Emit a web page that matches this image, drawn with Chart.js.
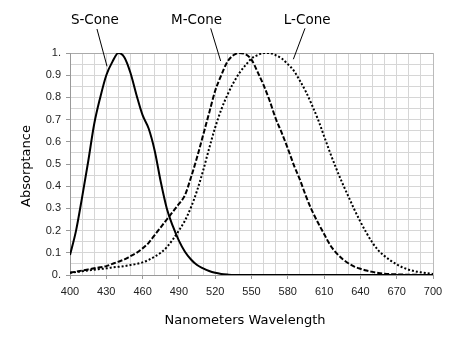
<!DOCTYPE html>
<html>
<head>
<meta charset="utf-8">
<script src="https://cdn.jsdelivr.net/npm/chart.js@4/dist/chart.umd.min.js"></script>
<style>
  html, body { margin: 0; padding: 0; background: #fff; }
  #wrap { width: 453px; height: 346px; }
</style>
</head>
<body>
<div id="wrap"><canvas id="coneChart" width="453" height="346"></canvas></div>
<script>
// wavelengths in nm, every 5 nm
const wavelengths = [];
for (let w = 400; w <= 700; w += 5) wavelengths.push(w);

const sCone = [0.09, 0.2, 0.35, 0.51, 0.68, 0.80, 0.90, 0.96, 1.0, 0.98,
  0.91, 0.81, 0.72, 0.66, 0.56, 0.42, 0.30, 0.22, 0.155, 0.105,
  0.07, 0.045, 0.03, 0.018, 0.01, 0.005, 0.002, 0, 0, 0,
  0, 0, 0, 0, 0, 0, 0, 0, 0, 0,
  0, 0, 0, 0, 0, 0, 0, 0, 0, 0,
  0, 0, 0, 0, 0, 0, 0, 0, 0, 0, 0];

const mCone = [0.01, 0.015, 0.02, 0.025, 0.03, 0.035, 0.04, 0.05, 0.06, 0.07,
  0.085, 0.10, 0.12, 0.145, 0.18, 0.215, 0.25, 0.285, 0.32, 0.36,
  0.44, 0.53, 0.63, 0.73, 0.83, 0.90, 0.96, 0.99, 1.0, 0.995,
  0.97, 0.915, 0.855, 0.785, 0.705, 0.64, 0.57, 0.495, 0.43, 0.355,
  0.29, 0.235, 0.185, 0.135, 0.10, 0.073, 0.053, 0.038, 0.028, 0.02,
  0.014, 0.009, 0.006, 0.004, 0.003, 0.002, 0.001, 0.001, 0, 0, 0];

const lCone = [0.01, 0.013, 0.017, 0.02, 0.024, 0.027, 0.03, 0.034, 0.037, 0.04,
  0.045, 0.05, 0.057, 0.068, 0.083, 0.10, 0.125, 0.16, 0.2, 0.245,
  0.305, 0.38, 0.47, 0.57, 0.665, 0.745, 0.81, 0.865, 0.91, 0.945,
  0.975, 0.99, 1.0, 1.0, 0.99, 0.975, 0.95, 0.92, 0.875, 0.825,
  0.765, 0.70, 0.625, 0.55, 0.48, 0.415, 0.355, 0.295, 0.24, 0.19,
  0.145, 0.11, 0.085, 0.065, 0.048, 0.034, 0.024, 0.017, 0.012, 0.008, 0.005];

// callout labels: text position and leader line, in data units
const callouts = [
  { text: 'S-Cone', x: 420.6, y: 1.146, from: [422.3, 1.108], to: [430.6, 0.94] },
  { text: 'M-Cone', x: 504.6, y: 1.146, from: [516.3, 1.111], to: [524.5, 0.964] },
  { text: 'L-Cone', x: 596, y: 1.146, from: [594.2, 1.111], to: [584.6, 0.972] }
];

function toPoints(vals) {
  return vals.map((v, i) => ({ x: wavelengths[i], y: v }));
}

const isMajorX = v => Math.abs((v - 400) / 30 - Math.round((v - 400) / 30)) < 1e-6;
const isMajorY = v => Math.abs(v * 10 - Math.round(v * 10)) < 1e-6;

const labelPlugin = {
  id: 'labels',
  afterDraw(chart) {
    const ctx = chart.ctx, xs = chart.scales.x, ys = chart.scales.y;
    ctx.save();
    ctx.fillStyle = '#000';
    ctx.strokeStyle = '#000';
    ctx.lineWidth = 1;
    ctx.font = '13.5px "DejaVu Sans"';
    ctx.textAlign = 'center';
    ctx.textBaseline = 'middle';
    callouts.forEach(c => {
      ctx.fillText(c.text, xs.getPixelForValue(c.x), ys.getPixelForValue(c.y));
      ctx.beginPath();
      ctx.moveTo(xs.getPixelForValue(c.from[0]), ys.getPixelForValue(c.from[1]));
      ctx.lineTo(xs.getPixelForValue(c.to[0]), ys.getPixelForValue(c.to[1]));
      ctx.stroke();
    });
    // axis titles
    ctx.font = '13px "DejaVu Sans"';
    ctx.fillText('Nanometers Wavelength', 245, 321);
    ctx.translate(27, 166);
    ctx.rotate(-Math.PI / 2);
    ctx.fillText('Absorptance', 0, 0);
    ctx.restore();
  }
};

const ctx = document.getElementById('coneChart').getContext('2d');
new Chart(ctx, {
  type: 'line',
  data: {
    datasets: [
      { label: 'S-Cone', data: toPoints(sCone), borderColor: '#000', borderWidth: 2, pointRadius: 0, cubicInterpolationMode: 'monotone' },
      { label: 'M-Cone', data: toPoints(mCone), borderColor: '#000', borderWidth: 2, borderDash: [5, 2], pointRadius: 0, cubicInterpolationMode: 'monotone' },
      { label: 'L-Cone', data: toPoints(lCone), borderColor: '#000', borderWidth: 2, borderDash: [2, 2], pointRadius: 0, cubicInterpolationMode: 'monotone' }
    ]
  },
  options: {
    responsive: false,
    animation: false,
    layout: { padding: { top: 53, right: 20, left: 0, bottom: 0 } },
    plugins: { legend: { display: false }, tooltip: { enabled: false } },
    scales: {
      x: {
        type: 'linear', min: 400, max: 700,
        afterFit: s => { s.height = 71; },
        border: { color: '#999' },
        grid: {
          color: c => c.tick && c.tick.value === 700 ? '#bbb' : '#d6d6d6',
          tickColor: c => c.tick && isMajorX(c.tick.value) ? '#999' : 'rgba(0,0,0,0)',
          tickLength: 4
        },
        ticks: {
          stepSize: 10, autoSkip: false, maxRotation: 0, padding: 6,
          color: '#222', font: { family: 'Liberation Sans', size: 11 },
          callback: v => isMajorX(v) ? String(Math.round(v)) : ''
        }
      },
      y: {
        min: 0, max: 1,
        afterFit: s => { s.width = 70; },
        border: { color: '#999' },
        grid: {
          color: c => c.tick && c.tick.value === 1 ? '#aaa' : '#d6d6d6',
          tickColor: c => c.tick && isMajorY(c.tick.value) ? '#999' : 'rgba(0,0,0,0)',
          tickLength: 4
        },
        ticks: {
          stepSize: 0.05, autoSkip: false, padding: 5,
          color: '#222', font: { family: 'Liberation Sans', size: 11 },
          callback: v => {
            if (!isMajorY(v)) return '';
            const r = Math.round(v * 10) / 10;
            if (r === 0) return '0.';
            if (r === 1) return '1.';
            return r.toFixed(1);
          }
        }
      }
    }
  },
  plugins: [labelPlugin]
});
</script>
</body>
</html>
